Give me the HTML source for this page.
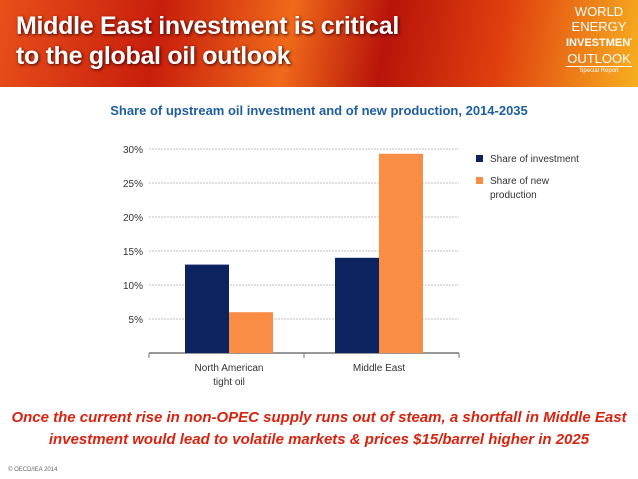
<!DOCTYPE html>
<html><head><meta charset="utf-8"><style>
body{margin:0;width:638px;height:479px;overflow:hidden;background:#fff;font-family:"Liberation Sans",sans-serif;position:relative}
.banner{position:absolute;left:0;top:0;width:638px;height:87px;background:linear-gradient(100deg,#e8501a 0%,#c81e0c 25%,#f06a1a 45%,#b8140a 60%,#e0400f 78%,#f7b020 100%)}
.title{position:absolute;left:16px;top:11px;color:#fff;font-weight:bold;font-size:25px;line-height:30px;text-shadow:1px 1px 3px #400;letter-spacing:-0.3px}
.logo{position:absolute;right:6px;top:4px;color:#fff;font-size:13px;line-height:15px;text-align:center;width:66px;overflow:hidden}
.sub{position:absolute;left:0;width:638px;top:103px;text-align:center;color:#1f5fa0;font-weight:bold;font-size:13px}
.foot{position:absolute;left:0;width:638px;top:407px;text-align:center;color:#d9230f;font-weight:bold;font-style:italic;font-size:15px;line-height:22px}
.copy{position:absolute;left:8px;top:467px;font-size:6px;color:#666}
</style></head><body>
<div class="banner"></div>
<div class="title">Middle East investment is critical<br>to the global oil outlook</div>
<div class="logo">WORLD<br>ENERGY<br><b style="font-size:11px">INVESTMENT</b><br>OUTLOOK<div style="font-size:6px;line-height:8px;border-top:1px solid #fff">Special Report</div></div>
<div class="sub">Share of upstream oil investment and of new production, 2014-2035</div>
<svg id="chart" width="638" height="479" style="position:absolute;left:0;top:0"></svg>
<div class="foot">Once the current rise in non-OPEC supply runs out of steam, a shortfall in Middle East<br>investment would lead to volatile markets &amp; prices $15/barrel higher in 2025</div>
<div class="copy">© OECD/IEA 2014</div>
<script>
const categories=[["North American","tight oil"],["Middle East"]];
const investment=[13,14];
const production=[6,29.3];
const ticks=[5,10,15,20,25,30];
const tickLabels=["5%","10%","15%","20%","25%","30%"];
const colors=["#0d2360","#f98d45"];
const svg=document.getElementById('chart');
const NS="http://www.w3.org/2000/svg";
const x0=149,x1=459,y0=353,pxPer=6.8;
const y=v=>y0-v*pxPer;
function el(t,a){const e=document.createElementNS(NS,t);for(const k in a)e.setAttribute(k,a[k]);svg.appendChild(e);return e;}
ticks.forEach((t,i)=>{
 const g=el('line',{x1:x0,x2:x1,y1:y(t),y2:y(t),stroke:'#aaa','stroke-dasharray':'2,1','stroke-width':0.8});
 
 
 const l=el('text',{x:x0-6,y:y(t)+4,'text-anchor':'end','font-size':10,fill:'#333','font-family':'Liberation Sans'});
 l.textContent=tickLabels[i];
 
 
});
const ax=el('line',{x1:x0,x2:x1,y1:y0,y2:y0,stroke:'#777','stroke-width':1.5});


const groupW=150, barW=44, firstC=229;
[x0,(x0+x1)/2,x1].forEach(tx=>{const t=el('line',{x1:tx,x2:tx,y1:y0,y2:y0+5,stroke:'#777'});
 
 });
categories.forEach((c,i)=>{
 const cx=firstC+groupW*i;
 [investment,production].forEach((s,j)=>{
  const bx=cx-barW+j*barW;
  const r=el('rect',{x:bx,y:y(s[i]),width:barW,height:s[i]*pxPer,fill:colors[j]});
  
  
 });
 c.forEach((line,k)=>{
  const t=el('text',{x:cx,y:y0+18+k*14,'text-anchor':'middle','font-size':10,fill:'#333','font-family':'Liberation Sans'});
  t.textContent=line;
  
  
 });
});
const legLines=[["Share of investment"],["Share of new","production"]];
legLines.forEach((ls,i)=>{
 const ly=159+i*22;
 const sw=el('rect',{x:476,y:ly-4,width:7,height:7,fill:colors[i]});
 
 
 ls.forEach((s,k)=>{
  const t=el('text',{x:490,y:ly+3+k*14,'font-size':10,fill:'#333','font-family':'Liberation Sans'});
  t.textContent=s;
  
  
 });
});
</script>
</body></html>
